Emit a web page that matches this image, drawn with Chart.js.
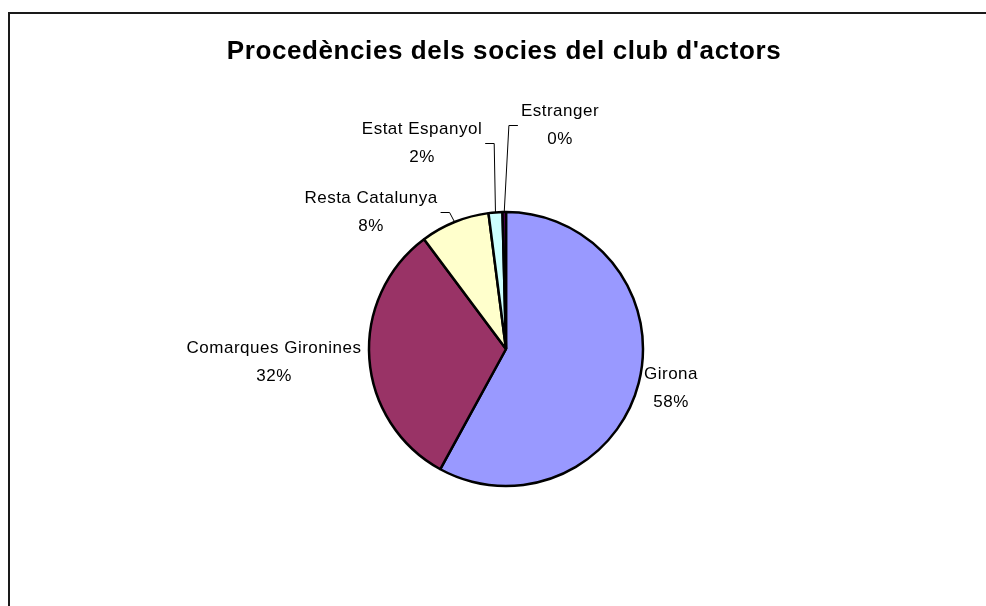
<!DOCTYPE html>
<html>
<head>
<meta charset="utf-8">
<script src="https://cdn.jsdelivr.net/npm/chart.js@4.4.1/dist/chart.umd.min.js"></script>
<style>
    body { margin: 0; background: #ffffff; }
    canvas { display: block; }
</style>
</head>
<body>
<canvas id="sociesChart" width="986" height="606"></canvas>
<script>
const titol = "Procedències dels socies del club d'actors";
const categories = ['Girona', 'Comarques Gironines', 'Resta Catalunya', 'Estat Espanyol', 'Estranger'];
const socis = [142, 78, 20, 4, 1];
const colors = ['#9999FF', '#993366', '#FFFFCC', '#CCFFFF', '#660066'];

// where each data label sits, relative to the pie centre
const labelLayout = [
    { dx: 165, dy: 39 },
    { dx: -232, dy: 13 },
    { dx: -135, dy: -137, leader: true },
    { dx: -84, dy: -206, leader: true },
    { dx: 54, dy: -224, leader: true }
];

const total = socis.reduce((a, b) => a + b, 0);

const frame = {
    id: 'frame',
    beforeDraw(chart) {
        const ctx = chart.ctx;
        ctx.save();
        ctx.fillStyle = '#ffffff';
        ctx.fillRect(0, 0, chart.width, chart.height);
        ctx.strokeStyle = '#1a1a1a';
        ctx.lineWidth = 2;
        ctx.strokeRect(9, 13, 1000, 620);
        ctx.fillStyle = '#000000';
        ctx.font = 'bold 26px "Liberation Sans", Arial, sans-serif';
        ctx.letterSpacing = '0.6px';
        ctx.textAlign = 'center';
        ctx.textBaseline = 'alphabetic';
        ctx.fillText(titol, 504, 59);
        ctx.restore();
    }
};

const etiquetes = {
    id: 'etiquetes',
    afterDatasetsDraw(chart) {
        const ctx = chart.ctx;
        const arcs = chart.getDatasetMeta(0).data;
        ctx.save();
        ctx.font = '17px "Liberation Sans", Arial, sans-serif';
        ctx.letterSpacing = '0.5px';
        ctx.fillStyle = '#000000';
        ctx.textAlign = 'center';
        ctx.textBaseline = 'middle';
        arcs.forEach((arc, i) => {
            const p = arc.getProps(['x', 'y', 'startAngle', 'endAngle', 'outerRadius'], true);
            const lay = labelLayout[i];
            const cx = p.x + lay.dx;
            const cy = p.y + lay.dy;
            const pct = Math.round(socis[i] / total * 100) + '%';
            ctx.fillText(categories[i], cx, cy - 14);
            ctx.fillText(pct, cx, cy + 14);

            if (lay.leader) {
                const mid = (p.startAngle + p.endAngle) / 2;
                const ex = p.x + Math.cos(mid) * p.outerRadius;
                const ey = p.y + Math.sin(mid) * p.outerRadius;
                const half = Math.max(ctx.measureText(categories[i]).width, ctx.measureText(pct).width) / 2;
                const side = ex > cx ? 1 : -1;
                const sx = cx + side * (half + 3);
                const kx = sx + side * 9;
                ctx.beginPath();
                ctx.strokeStyle = '#000000';
                ctx.lineWidth = 1;
                ctx.moveTo(sx, cy + 0.5);
                ctx.lineTo(kx, cy + 0.5);
                ctx.lineTo(ex, ey);
                ctx.stroke();
            }
        });
        ctx.restore();
    }
};

const ctx = document.getElementById('sociesChart').getContext('2d');
const sociesChart = new Chart(ctx, {
    type: 'pie',
    data: {
        labels: categories,
        datasets: [{
            data: socis,
            backgroundColor: colors,
            borderColor: '#000000',
            borderWidth: 2.5,
            radius: 137
        }]
    },
    options: {
        responsive: false,
        animation: false,
        events: [],
        layout: {
            padding: { left: 26, right: 0, top: 92, bottom: 0 }
        },
        plugins: {
            legend: { display: false },
            title: { display: false },
            tooltip: { enabled: false }
        }
    },
    plugins: [frame, etiquetes]
});
</script>
</body>
</html>
